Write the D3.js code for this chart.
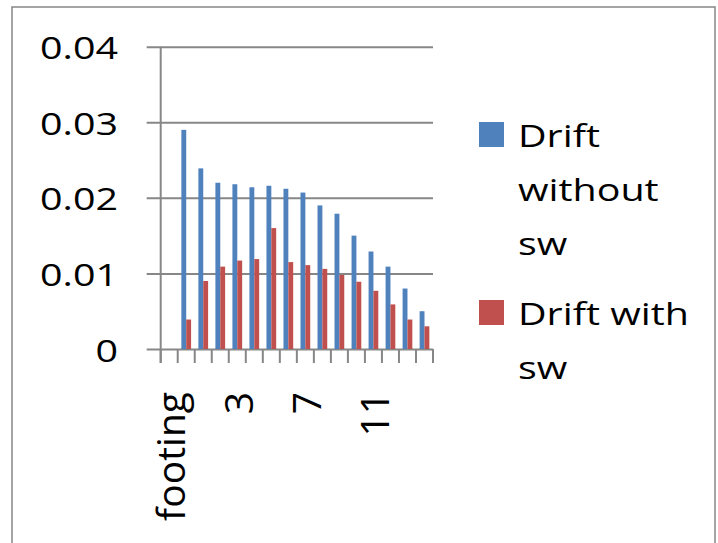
<!DOCTYPE html>
<html>
<head>
<meta charset="utf-8">
<script src="https://cdn.jsdelivr.net/npm/d3@7"></script>
<style>
  body { margin: 0; background: #fff; }
  text { font-family: "Open Sans", sans-serif; fill: #000; }
</style>
</head>
<body>
<div id="container"></div>
<script>
var width = 718, height = 543;

var categories = ["footing", "0", "1", "2", "3", "4", "5", "6", "7", "8", "9", "10", "11", "12", "13", "14"];
var driftWithout = [0, 0.0290, 0.0239, 0.0220, 0.0218, 0.0214, 0.0216, 0.0212, 0.0207, 0.0190, 0.0179, 0.0150, 0.0129, 0.0109, 0.0080, 0.0050];
var driftWith = [0, 0.0039, 0.0090, 0.0109, 0.0117, 0.0119, 0.0160, 0.0115, 0.0111, 0.0106, 0.0098, 0.0089, 0.0077, 0.0059, 0.0039, 0.0030];
var seriesNames = ["Drift without sw", "Drift with sw"];
var yTicks = [0, 0.01, 0.02, 0.03, 0.04];
var yTickLabels = ["0", "0.01", "0.02", "0.03", "0.04"];
var shownLabels = ["footing", "3", "7", "11"];

var colors = ["#4F81BD", "#C0504D"];
var axisColor = "#878787";
var sx = 1.24; // horizontal stretch of the flat text

var plotLeft = 160.7, plotRight = 433, plotTop = 46.7, plotBottom = 349;

var xScale = d3.scaleBand().domain(categories).range([plotLeft, plotRight]).padding(0);
var sub = d3.scaleBand().domain(seriesNames).range([0, xScale.bandwidth()]).paddingOuter(0.75).paddingInner(0);
var yScale = d3.scaleLinear().domain([0, 0.04]).range([plotBottom, plotTop]);

var translate = function(x, y) {
	return "translate(" + x + "," + y + ")";
};

function visualize() {
	var svg = d3.select('#container').append('svg')
		.attr('width', width)
		.attr('height', height);

	// chart frame
	svg.append('rect')
		.attr('x', 12).attr('y', 7)
		.attr('width', 703).attr('height', 560)
		.attr('fill', 'none')
		.attr('stroke', axisColor)
		.attr('stroke-width', 1.5);

	// gridlines + left ticks
	var yAxis = d3.axisLeft(yScale).tickValues(yTicks).tickSize(-(plotRight - plotLeft)).tickFormat('');
	svg.append('g')
		.attr('transform', translate(plotLeft, 0))
		.call(yAxis)
		.call(function(g) {
			g.select('.domain').remove();
			g.selectAll('.tick line').attr('stroke', axisColor).attr('stroke-width', 2)
				.attr('x1', -14);
		});

	// y axis line
	svg.append('line')
		.attr('x1', plotLeft).attr('x2', plotLeft)
		.attr('y1', plotTop).attr('y2', plotBottom + 14)
		.attr('stroke', axisColor).attr('stroke-width', 2);

	// category ticks
	var edges = categories.map(function(c) { return xScale(c); }).concat([plotRight]);
	svg.selectAll('.xtick').data(edges).enter()
		.append('line')
		.attr('x1', function(d) { return d; })
		.attr('x2', function(d) { return d; })
		.attr('y1', plotBottom).attr('y2', plotBottom + 14)
		.attr('stroke', axisColor).attr('stroke-width', 2);

	// bars
	[driftWithout, driftWith].forEach(function(values, s) {
		svg.append('g').selectAll('rect').data(values).enter()
			.append('rect')
			.attr('x', function(d, i) { return xScale(categories[i]) + sub(seriesNames[s]); })
			.attr('y', function(d) { return yScale(d); })
			.attr('width', sub.bandwidth())
			.attr('height', function(d) { return plotBottom - yScale(d); })
			.attr('fill', colors[s]);
	});

	// y labels
	svg.selectAll('.ylab').data(yTicks).enter()
		.append('text')
		.attr('transform', function(d) { return translate(118, yScale(d) + 12.6) + " scale(" + sx + ",1)"; })
		.attr('text-anchor', 'end')
		.attr('font-size', 31.8)
		.text(function(d, i) { return yTickLabels[i]; });

	// x labels, rotated
	svg.selectAll('.xlab').data(shownLabels).enter()
		.append('text')
		.attr('transform', function(d) {
			return translate(xScale(d) + xScale.bandwidth() / 2 + 15.6, 392) + " rotate(-90)";
		})
		.attr('text-anchor', 'end')
		.attr('font-size', 39)
		.text(function(d) { return d; });

	// legend
	var legendLines = [["Drift", "without", "sw"], ["Drift with", "sw"]];
	var legendY = [122, 300];
	legendLines.forEach(function(lines, s) {
		svg.append('rect')
			.attr('x', 479).attr('y', legendY[s])
			.attr('width', 25).attr('height', 25)
			.attr('fill', colors[s]);
		lines.forEach(function(t, j) {
			svg.append('text')
				.attr('transform', translate(518, legendY[s] + 24.7 + j * 54.3) + " scale(" + sx + ",1)")
				.attr('font-size', 31.8)
				.text(t);
		});
	});
}

window.onload = visualize;
</script>
</body>
</html>
